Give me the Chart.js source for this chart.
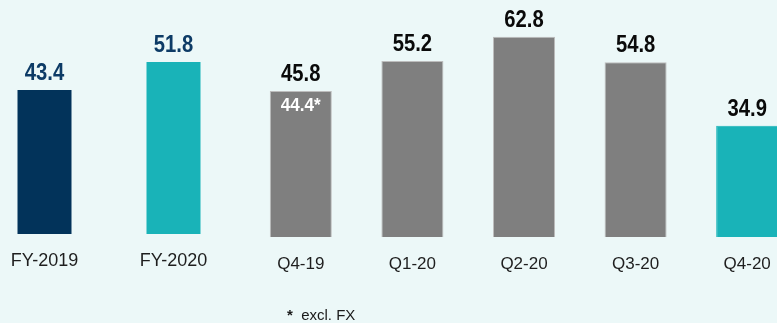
<!DOCTYPE html>
<html>
<head>
<meta charset="utf-8">
<script src="https://cdn.jsdelivr.net/npm/chart.js@4"></script>
<style>
  html, body { margin: 0; padding: 0; }
  body { width: 777px; height: 323px; overflow: hidden; position: relative; background: #ECF8F8; font-family: "Liberation Sans", Arial, sans-serif; }
  #left { position: absolute; left: -20px; top: 0; }
  #right { position: absolute; left: 245px; top: 0; }
  #note { position: absolute; left: 287px; top: 307px; font-size: 15px; line-height: 15px; color: #1a1a1a; white-space: pre; }
</style>
</head>
<body>
<canvas id="left" width="258" height="323"></canvas>
<canvas id="right" width="558" height="323"></canvas>
<div id="note"><b>*</b>  excl. FX</div>
<script>
// ---- data ----
const yearCategories = ["FY-2019", "FY-2020"];
const yearValues = [43.4, 51.8];
const yearColors = ["#02335A", "#19B3B8"];

const quarterCategories = ["Q4-19", "Q1-20", "Q2-20", "Q3-20", "Q4-20"];
const quarterValues = [45.8, 55.2, 62.8, 54.8, 34.9];
const quarterExFx = [44.4, null, null, null, null];
const quarterColors = ["#7F7F7F", "#7F7F7F", "#7F7F7F", "#7F7F7F", "#19B3B8"];
const quarterBorders = ["#BDBDBD", "#BDBDBD", "#BDBDBD", "#BDBDBD", "#19B3B8"];

const FONT = "'Liberation Sans', Arial, sans-serif";

// value labels, drawn slightly condensed like the original artwork
function labelPlugin(labelColor, inner) {
  return {
    id: 'valueLabels',
    afterDatasetsDraw(chart) {
      const ctx = chart.ctx;
      const meta = chart.getDatasetMeta(0);
      const data = chart.data.datasets[0].data;
      meta.data.forEach((bar, i) => {
        ctx.save();
        ctx.textAlign = 'center';
        ctx.textBaseline = 'alphabetic';
        ctx.translate(bar.x, bar.y - 10);
        ctx.scale(0.88, 1);
        ctx.font = "bold 23px " + FONT;
        ctx.fillStyle = labelColor;
        ctx.fillText(data[i].toFixed(1), 0, 0);
        ctx.restore();
        if (inner && inner[i] != null) {
          ctx.save();
          ctx.textAlign = 'center';
          ctx.textBaseline = 'alphabetic';
          ctx.translate(bar.x, bar.y + 20);
          ctx.scale(0.9, 1);
          ctx.font = "bold 19px " + FONT;
          ctx.fillStyle = "#FFFFFF";
          ctx.fillText(inner[i].toFixed(1) + "*", 0, 0);
          ctx.restore();
        }
      });
    }
  };
}

function makeChart(id, cats, vals, colors, borders, pct, yMax, axisH, tickSize, tickPad, labelColor, inner) {
  return new Chart(document.getElementById(id), {
    type: 'bar',
    data: {
      labels: cats,
      datasets: [{
        data: vals,
        backgroundColor: colors,
        borderColor: borders,
        borderWidth: borders ? 1 : 0,
        barPercentage: pct,
        categoryPercentage: 1.0
      }]
    },
    options: {
      responsive: false,
      animation: false,
      events: [],
      layout: { padding: 0 },
      plugins: { legend: { display: false }, tooltip: { enabled: false } },
      scales: {
        y: { display: false, min: 0, max: yMax },
        x: {
          grid: { display: false, drawTicks: false },
          border: { display: false },
          ticks: { padding: tickPad, color: "#1E1E1E", font: { family: FONT, size: tickSize } },
          afterFit(scale) { scale.height = axisH; }
        }
      }
    },
    plugins: [labelPlugin(labelColor, inner)]
  });
}

makeChart('left', yearCategories, yearValues, yearColors, null, 54 / 129, 70.5, 89,
          18, 16, "#0D3B66", null);
makeChart('right', quarterCategories, quarterValues, quarterColors, quarterBorders, 62 / 111.5, 74.3, 86,
          17, 17, "#0A0A0A", quarterExFx);
</script>
</body>
</html>
